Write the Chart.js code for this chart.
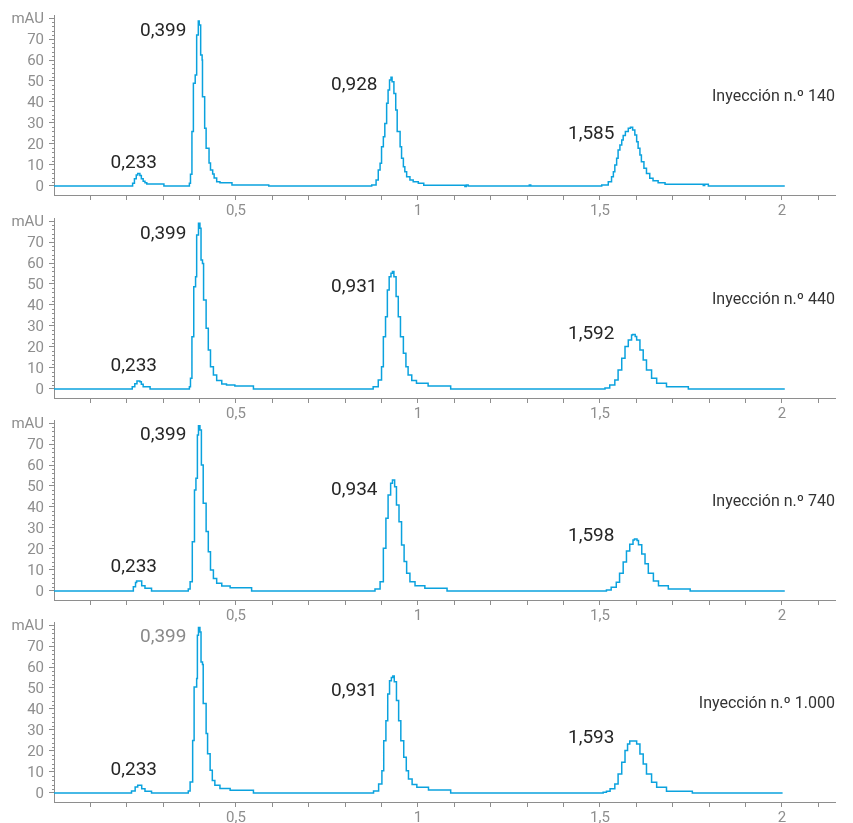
<!DOCTYPE html>
<html>
<head>
<meta charset="utf-8">
<script src="https://cdn.jsdelivr.net/npm/chart.js@4.4.1/dist/chart.umd.min.js"></script>
<style>
  html, body { margin: 0; padding: 0; background: #fff; overflow: hidden; }
  #wrap { position: relative; width: 853px; height: 823px; }
  canvas { position: absolute; left: 0; }
</style>
</head>
<body>
<div id="wrap">
  <canvas id="c1" width="853" height="220" style="top:0px"></canvas>
  <canvas id="c2" width="853" height="220" style="top:203px"></canvas>
  <canvas id="c3" width="853" height="220" style="top:405px"></canvas>
  <canvas id="c4" width="853" height="220" style="top:607px"></canvas>
</div>
<script>
// ---- axis ticks ----
const xTickValues = [0.1, 0.2, 0.3, 0.4, 0.5, 0.6, 0.7, 0.8, 0.9, 1, 1.1, 1.2, 1.3, 1.4, 1.5, 1.6, 1.7, 1.8, 1.9, 2, 2.1];
const xMajorValues = [0.5, 1, 1.5, 2];
const xMajorLabels = ['0,5', '1', '1,5', '2'];
const yTickValues = [0, 10, 20, 30, 40, 50, 60, 70, 80];
const yTickLabels = ['0', '10', '20', '30', '40', '50', '60', '70', 'mAU'];

// ---- injection 140 ----
const inj140Time = [0, 0.213, 0.216, 0.221, 0.226, 0.230, 0.236, 0.240, 0.245, 0.250, 0.255, 0.302,
  0.372, 0.375, 0.379, 0.383, 0.388, 0.392, 0.3965, 0.399, 0.403, 0.407, 0.408, 0.414, 0.418, 0.426,
  0.430, 0.436, 0.440, 0.447, 0.456, 0.489, 0.59,
  0.873, 0.885, 0.891, 0.896, 0.900, 0.905, 0.909, 0.914, 0.918, 0.922, 0.926, 0.929, 0.934, 0.939,
  0.943, 0.951, 0.955, 0.960, 0.964, 0.969, 0.978, 0.987, 1.001, 1.016, 1.129, 1.133, 1.138, 1.306, 1.31,
  1.505, 1.523, 1.532, 1.537, 1.541, 1.546, 1.550, 1.555, 1.560, 1.564, 1.570, 1.578, 1.584, 1.590,
  1.596, 1.601, 1.605, 1.610, 1.614, 1.621, 1.628, 1.637, 1.646, 1.660, 1.679, 1.784, 1.788, 1.798, 2.008];
const inj140Abs = [0, 0, 1.3, 3.5, 5.2, 6, 5, 3.5, 2.2, 1.5, 1, 0,
  1.3, 5.6, 25.9, 48.9, 52.9, 71.9, 78.6, 76.7, 62.4, 60, 42.5, 27.5, 18, 11,
  7.6, 5.7, 3.8, 2, 1.5, 0.5, 0,
  0.5, 2.9, 7.6, 10.8, 18.7, 23.5, 29.8, 39.4, 45.7, 50.5, 51.8, 49.7, 44, 36.2,
  25.9, 18.7, 13.2, 9.2, 6.8, 4.4, 2.9, 2, 1.3, 0.4, -0.3, 0.5, 0, 0.5, 0,
  0.5, 2, 4.4, 6.8, 10, 13.2, 17.1, 19.5, 21.9, 24, 25.9, 27.5, 28, 26.7,
  24.3, 21.1, 18, 14.8, 11.6, 8.4, 6, 3.7, 2.5, 1.6, 0.8, 0.2, 0.8, 0, 0];

// ---- injection 440 ----
const inj440Time = [0, 0.215, 0.222, 0.228, 0.236, 0.240, 0.245, 0.264,
  0.372, 0.375, 0.379, 0.384, 0.389, 0.392, 0.397, 0.401, 0.404, 0.408, 0.411, 0.418, 0.424, 0.430,
  0.438, 0.447, 0.461, 0.474, 0.497, 0.548,
  0.877, 0.891, 0.900, 0.905, 0.911, 0.916, 0.921, 0.926, 0.930, 0.934, 0.940, 0.946, 0.952, 0.960,
  0.967, 0.973, 0.983, 0.996, 1.028, 1.09,
  1.514, 1.527, 1.541, 1.550, 1.560, 1.569, 1.578, 1.587, 1.590, 1.597, 1.601, 1.610, 1.619, 1.628,
  1.642, 1.656, 1.683, 1.743, 2.008];
const inj440Abs = [0, 1.1, 2.5, 3.8, 3.5, 2.2, 1.1, 0,
  1.1, 5.1, 24.9, 48.7, 53.5, 73.3, 78.9, 76.5, 61.4, 59.8, 42.4, 28.9, 18.6, 10.6,
  6.7, 4, 2.4, 1.9, 1.4, 0,
  1.1, 4.3, 10.6, 24.9, 34.4, 47.1, 53.5, 55.1, 56, 53.5, 44, 34.4, 24.9, 17,
  10.6, 6.7, 4, 2.7, 1.4, 0,
  0.5, 1.9, 4.3, 9, 14.6, 20.2, 23.3, 25.7, 26, 25, 23.3, 18.6, 13.8, 9,
  5.1, 2.7, 1.1, 0, 0];

// ---- injection 740 ----
const inj740Time = [0, 0.218, 0.224, 0.227, 0.236, 0.241, 0.250, 0.268,
  0.369, 0.374, 0.380, 0.386, 0.390, 0.394, 0.397, 0.401, 0.405, 0.410, 0.418, 0.424, 0.430, 0.438,
  0.447, 0.461, 0.484, 0.543,
  0.882, 0.896, 0.905, 0.912, 0.918, 0.925, 0.930, 0.936, 0.941, 0.948, 0.955, 0.962, 0.969, 0.978,
  0.992, 1.019, 1.08,
  1.518, 1.531, 1.545, 1.554, 1.564, 1.573, 1.582, 1.591, 1.595, 1.602, 1.606, 1.615, 1.624, 1.633,
  1.647, 1.661, 1.688, 1.748, 2.008];
const inj740Abs = [0, 2, 4, 4.8, 4.8, 2.5, 1.3, 0,
  1, 4.4, 23.5, 48.1, 53.7, 74.3, 78.7, 76.7, 60, 41.8, 28.3, 18.7, 10, 6,
  3.7, 2.4, 1.6, 0,
  1, 4.4, 20.3, 34.6, 45.7, 51.3, 52.9, 49.7, 41, 33, 21.9, 14, 8.4, 4.4,
  2.5, 1.3, 0,
  0.5, 1.8, 4.2, 8.5, 13.8, 19, 22.3, 24.3, 24.8, 24, 22, 17.6, 13, 8.5,
  4.8, 2.5, 1, 0, 0];

// ---- injection 1.000 ----
const inj1000Time = [0, 0.213, 0.223, 0.230, 0.236, 0.241, 0.250, 0.268,
  0.369, 0.374, 0.381, 0.385, 0.392, 0.394, 0.397, 0.401, 0.404, 0.408, 0.410, 0.418, 0.422, 0.429,
  0.435, 0.442, 0.456, 0.484, 0.548,
  0.878, 0.892, 0.901, 0.906, 0.912, 0.917, 0.922, 0.927, 0.931, 0.935, 0.941, 0.947, 0.953, 0.961,
  0.968, 0.974, 0.984, 0.997, 1.029, 1.09,
  1.509, 1.518, 1.528, 1.541, 1.550, 1.560, 1.569, 1.576, 1.582, 1.601, 1.610, 1.619, 1.628, 1.642,
  1.656, 1.683, 1.754, 2.002];
const inj1000Abs = [0, 1, 2.9, 3.7, 3.7, 2, 0.8, 0,
  1, 5.2, 25, 50.5, 54.5, 75.1, 78.8, 76.7, 62.4, 61.2, 42.6, 28.3, 18.7, 10.8,
  6, 3.7, 2.1, 1.3, 0,
  1, 4.3, 10.6, 24.9, 34.4, 47.1, 53.5, 55, 55.7, 53, 44, 34.4, 24.9, 17,
  10.6, 6.7, 4, 2.7, 1.4, 0,
  0.3, 0.8, 2, 4.3, 9, 14.6, 20.2, 23.3, 24.8, 23.3, 18.6, 13.8, 9, 5.1,
  2.7, 0.8, 0, 0];

// ---- peak labels (text, anchor time, anchor mAU) ----
const inj140Peaks = ['0,233', '0,399', '0,928', '1,585'];
const inj440Peaks = ['0,233', '0,399', '0,931', '1,592'];
const inj740Peaks = ['0,233', '0,399', '0,934', '1,598'];
const inj1000Peaks = ['0,233', '0,399', '0,931', '1,593'];
const labelTime = [0.283, 0.364, 0.889, 1.540];
const labelAbs140 = [11.4, 74.3, 48.6, 25.2];
const labelAbs440 = [11.4, 74.4, 49, 26.5];
const labelAbs740 = [11.6, 74.6, 48.6, 26.7];
const labelAbs1000 = [11.4, 74.8, 49, 26.7];
const injectionNames = ['Inyección n.º 140', 'Inyección n.º 440', 'Inyección n.º 740', 'Inyección n.º 1.000'];

const axisGray = '#8e8e8e';
const traceBlue = '#0ba2de';

const annotate = {
  id: 'annotate',
  afterDatasetsDraw(chart, args, opts) {
    const { ctx, chartArea, scales: { x, y } } = chart;
    ctx.save();
    // small ticks on the y axis
    ctx.strokeStyle = axisGray;
    ctx.lineWidth = 1;
    for (let v = 2; v < 80; v += 2) {
      if (v % 10 === 0) continue;
      const py = Math.round(y.getPixelForValue(v)) + 0.5;
      ctx.beginPath();
      ctx.moveTo(chartArea.left - 2, py);
      ctx.lineTo(chartArea.left, py);
      ctx.stroke();
    }
    // peak labels
    ctx.font = '19px Roboto';
    ctx.textAlign = 'right';
    ctx.textBaseline = 'middle';
    opts.labels.forEach((txt, i) => {
      ctx.fillStyle = (opts.grayIndex === i) ? '#8a8a8a' : '#262626';
      ctx.fillText(txt, x.getPixelForValue(labelTime[i]), y.getPixelForValue(opts.values[i]) + 1);
    });
    // injection name
    ctx.font = '16px Roboto';
    ctx.fillStyle = '#333';
    ctx.fillText(opts.name, chartArea.right, y.getPixelForValue(43) + 1);
    ctx.restore();
  }
};

function makePanel(id, times, abs, labels, values, name, grayIndex) {
  const pts = times.map((t, i) => ({ x: t, y: abs[i] }));
  return new Chart(document.getElementById(id), {
    type: 'line',
    data: {
      datasets: [{
        data: pts,
        borderColor: traceBlue,
        borderWidth: 1.5,
        pointRadius: 0,
        stepped: true,
        fill: false
      }]
    },
    options: {
      responsive: false,
      animation: false,
      layout: { padding: { top: 15, right: 18, left: 0, bottom: 0 } },
      plugins: {
        legend: { display: false },
        tooltip: { enabled: false },
        annotate: { labels: labels, values: values, name: name, grayIndex: grayIndex }
      },
      scales: {
        x: {
          type: 'linear',
          min: 0,
          max: 2.146,
          afterBuildTicks: s => { s.ticks = xTickValues.map(v => ({ value: v })); },
          afterFit: s => { s.height = 25; },
          ticks: {
            autoSkip: false,
            maxRotation: 0,
            padding: 2,
            color: axisGray,
            font: { family: 'Roboto', size: 15 },
            callback: v => {
              const k = xMajorValues.findIndex(m => Math.abs(m - v) < 1e-6);
              return k >= 0 ? xMajorLabels[k] : '';
            }
          },
          grid: { drawOnChartArea: false, tickLength: 5, tickColor: axisGray },
          border: { color: axisGray }
        },
        y: {
          min: -4.29,
          max: 81.43,
          afterBuildTicks: s => { s.ticks = yTickValues.map(v => ({ value: v })); },
          afterFit: s => { s.width = 54; },
          ticks: {
            padding: 5,
            labelOffset: 1.5,
            color: axisGray,
            font: { family: 'Roboto', size: 15 },
            callback: (v, i) => yTickLabels[i]
          },
          grid: { drawOnChartArea: false, tickLength: 5, tickColor: axisGray },
          border: { color: axisGray }
        }
      }
    },
    plugins: [annotate]
  });
}

makePanel('c1', inj140Time, inj140Abs, inj140Peaks, labelAbs140, injectionNames[0], -1);
makePanel('c2', inj440Time, inj440Abs, inj440Peaks, labelAbs440, injectionNames[1], -1);
makePanel('c3', inj740Time, inj740Abs, inj740Peaks, labelAbs740, injectionNames[2], -1);
makePanel('c4', inj1000Time, inj1000Abs, inj1000Peaks, labelAbs1000, injectionNames[3], 1);
</script>
</body>
</html>
